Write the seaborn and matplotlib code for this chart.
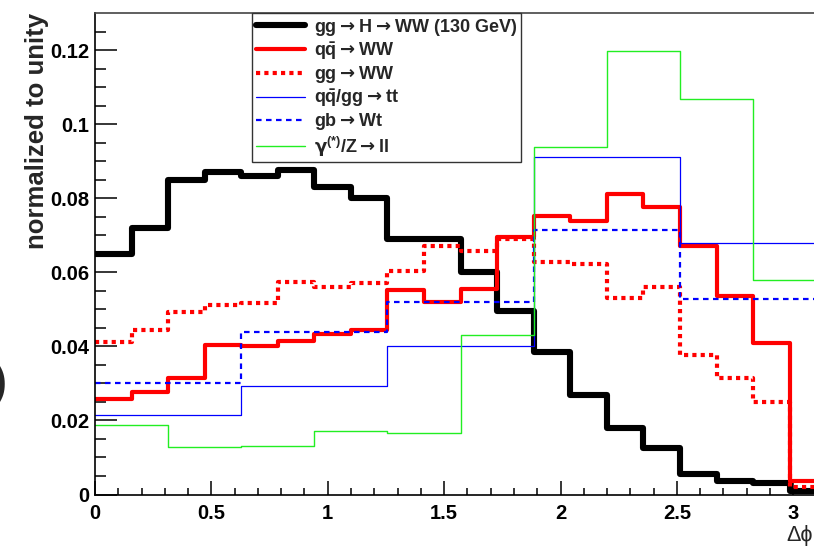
import numpy as np
import matplotlib
matplotlib.use("Agg")
import matplotlib.pyplot as plt
import pandas as pd
import seaborn as sns

# ==========================================
# DATA (normalized to unity)
# ==========================================

# 20 bins over [0, pi]
higgs_ww = [0.065, 0.072, 0.085, 0.087, 0.086, 0.0875, 0.083, 0.080, 0.069, 0.069,
            0.060, 0.0495, 0.0385, 0.027, 0.018, 0.0125, 0.0055, 0.0037, 0.003, 0.001]
qq_ww = [0.0257, 0.0278, 0.0314, 0.0403, 0.0401, 0.0415, 0.0432, 0.0444, 0.0552, 0.052,
         0.0554, 0.0696, 0.0752, 0.0739, 0.0811, 0.0777, 0.0671, 0.0536, 0.0408, 0.0036]
gg_ww = [0.0412, 0.0444, 0.0493, 0.0511, 0.0516, 0.0574, 0.0561, 0.057, 0.0603, 0.0672,
         0.0658, 0.0689, 0.0628, 0.0622, 0.053, 0.0559, 0.0377, 0.0315, 0.025, 0.0021]

# 5 bins over [0, pi]
ttbar = [0.0216, 0.0293, 0.0402, 0.0912, 0.0678]
wt = [0.030, 0.0439, 0.052, 0.0714, 0.0527]

# 10 bins over [0, pi]
z_ll = [0.0188, 0.0127, 0.0131, 0.0172, 0.0167, 0.0430, 0.0938, 0.1198, 0.1067, 0.0579]

ARROW = r"$\rightarrow$"

labels = [
    f"gg{ARROW}H{ARROW}WW (130 GeV)",
    rf"$\mathbf{{q\bar{{q}}}}${ARROW}WW",
    f"gg{ARROW}WW",
    rf"$\mathbf{{q\bar{{q}}}}$/gg{ARROW}tt",
    f"gb{ARROW}Wt",
    rf"$\mathrm{{\gamma}}^{{\mathbf{{(*)}}}}$/Z{ARROW}ll",
]

y_ticks = [0, 0.02, 0.04, 0.06, 0.08, 0.1, 0.12]
x_ticks = [0, 0.5, 1, 1.5, 2, 2.5, 3]

# ==========================================
# STYLE
# ==========================================

sns.set_theme(style="ticks")
plt.rcParams["font.family"] = ["Liberation Sans", "DejaVu Sans"]
plt.rcParams["font.weight"] = "bold"
plt.rcParams["mathtext.fontset"] = "custom"
plt.rcParams["mathtext.rm"] = "DejaVu Sans"
plt.rcParams["mathtext.bf"] = "Liberation Sans:bold"
plt.rcParams["mathtext.it"] = "DejaVu Sans:italic"

fig = plt.figure(figsize=(8.14, 5.48), dpi=100)
ax = fig.add_axes([0.1167, 0.0976, 0.8833, 0.8787])

styles = [
    (higgs_ww, dict(color="black", linewidth=4.4)),
    (qq_ww, dict(color="#ff0000", linewidth=3.0)),
    (gg_ww, dict(color="#ff0000", linewidth=3.0, linestyle=(0, (1, 1)))),
    (ttbar, dict(color="#0000ff", linewidth=0.9)),
    (wt, dict(color="#0000ff", linewidth=1.6, linestyle=(0, (2.5, 2)))),
    (z_ll, dict(color="#22ee22", linewidth=1.0)),
]

handles = []

for values, kw in styles:

    n = len(values)
    edges = np.linspace(0, np.pi, n + 1)

    df = pd.DataFrame({
        "dphi": 0.5 * (edges[:-1] + edges[1:]),
        "w": values,
    })

    sns.histplot(
        data=df,
        x="dphi",
        weights="w",
        bins=list(edges),
        element="step",
        fill=False,
        ax=ax,
        **kw
    )

    handles.append(ax.lines[-1])

# ==========================================
# AXES
# ==========================================

ax.set_xlim(0, 3.089)
ax.set_ylim(0, 0.13)

ax.set_xticks(x_ticks)
ax.set_xticklabels(["%g" % t for t in x_ticks])
ax.set_yticks(y_ticks)
ax.set_yticklabels(["%g" % t for t in y_ticks])
ax.set_xticks(np.arange(0, 3.09, 0.1), minor=True)
ax.set_yticks(np.arange(0, 0.13, 0.005), minor=True)

ax.tick_params(axis="both", which="both", direction="in", width=1.1, colors="black")
ax.tick_params(axis="y", which="major", length=16, labelsize=14.5, pad=4)
ax.tick_params(axis="y", which="minor", length=8)
ax.tick_params(axis="x", which="major", length=10, labelsize=14.5, pad=7)
ax.tick_params(axis="x", which="minor", length=5)

for label in ax.get_xticklabels() + ax.get_yticklabels():
    label.set_fontweight("bold")

ax.spines["right"].set_visible(False)
for side in ["left", "bottom", "top"]:
    ax.spines[side].set_linewidth(1.2)
    ax.spines[side].set_color("black")
ax.spines["top"].set_color("#444444")

ax.set_xlabel("")
ax.set_ylabel("normalized to unity", fontsize=18.5, fontweight="bold", loc="top")
ax.yaxis.set_label_coords(-0.064, 1.0)

fig.text(786 / 814, 0.022, "Δϕ", fontsize=15.5, fontweight="normal",
         ha="left", va="center")

# cropped fragment at the left border
fig.text(0.008, 0.30, ")", fontsize=30, fontweight="bold", ha="right", va="center")

# ==========================================
# LEGEND
# ==========================================

leg = ax.legend(
    handles,
    labels,
    loc="upper left",
    bbox_to_anchor=(0.219, 1.0),
    borderaxespad=0,
    prop={"weight": "bold", "size": 13},
    frameon=True,
    fancybox=False,
    edgecolor="#333333",
    framealpha=1,
    handlelength=2.7,
    handletextpad=0.5,
    labelspacing=0.12,
    borderpad=0.2,
)
leg.get_frame().set_linewidth(1.0)

fig.savefig("out.png", dpi=100)
plt.close(fig)
